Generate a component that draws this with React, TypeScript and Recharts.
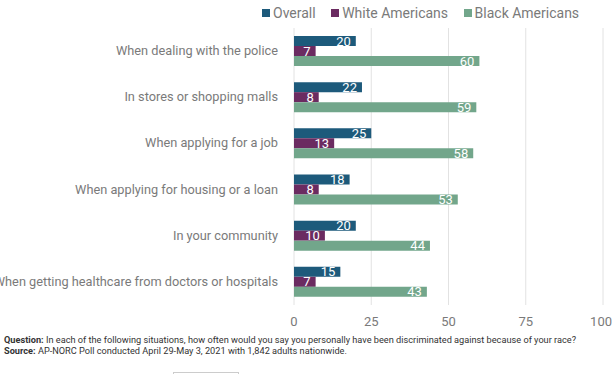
import { BarChart, Bar, XAxis, YAxis, CartesianGrid, LabelList } from "recharts";

const categories = [
  "When dealing with the police",
  "In stores or shopping malls",
  "When applying for a job",
  "When applying for housing or a loan",
  "In your community",
  "When getting healthcare from doctors or hospitals",
];
const overall = [20, 22, 25, 18, 20, 15];
const whiteAmericans = [7, 8, 13, 8, 10, 7];
const blackAmericans = [60, 59, 58, 53, 44, 43];
const xTicks = [0, 25, 50, 75, 100];

const series = [
  { key: "overall", name: "Overall", color: "#1d5a7b" },
  { key: "white", name: "White Americans", color: "#6b2b61" },
  { key: "black", name: "Black Americans", color: "#72a68b" },
];

const data = categories.map((name, i) => ({
  name,
  overall: overall[i],
  white: whiteAmericans[i],
  black: blackAmericans[i],
}));

const FONT = "Roboto, 'Noto Sans', sans-serif";

// single-line category label, right aligned
const CategoryTick = ({ x, y, payload }: any) => (
  <text x={x} y={y} dy={4} textAnchor="end" fill="#7a7a7a" fontSize={12.75} fontFamily={FONT}>
    {payload.value}
  </text>
);

export default function App() {
  return (
    <div style={{ position: "absolute", left: 0, top: 0, width: 612, height: 374, background: "#fff", overflow: "hidden" }}>
      <div
        style={{
          position: "absolute",
          left: 262,
          top: 5,
          display: "flex",
          fontFamily: FONT,
          fontSize: 14,
          color: "#7a7a7a",
        }}
      >
        {series.map((s) => (
          <div key={s.key} style={{ display: "flex", alignItems: "center", marginRight: 15.5 }}>
            <span style={{ width: 8, height: 8, background: s.color, display: "inline-block", marginRight: 3 }} />
            <span>{s.name}</span>
          </div>
        ))}
      </div>
      <BarChart
        width={612}
        height={330}
        data={data}
        layout="vertical"
        barGap={0}
        margin={{ top: 28, right: 9, left: 0, bottom: 0 }}
      >
        <CartesianGrid horizontal={false} stroke="#e2e2e2" />
        <XAxis
          type="number"
          domain={[0, 100]}
          ticks={xTicks}
          axisLine={false}
          tickLine={false}
          tickMargin={6}
          height={25}
          tick={{ fill: "#7a7a7a", fontSize: 13, fontFamily: FONT }}
        />
        <YAxis
          type="category"
          dataKey="name"
          width={294}
          axisLine={false}
          tickLine={false}
          tickMargin={10}
          interval={0}
          tick={<CategoryTick />}
        />
        {series.map((s) => (
          <Bar key={s.key} dataKey={s.key} name={s.name} fill={s.color} barSize={10} isAnimationActive={false}>
            <LabelList
              dataKey={s.key}
              position="insideRight"
              fill="#ffffff"
              style={{ fontSize: 13, fontFamily: FONT }}
            />
          </Bar>
        ))}
      </BarChart>
      <div
        style={{
          position: "absolute",
          left: 4,
          top: 333.5,
          fontFamily: FONT,
          fontSize: 9.2,
          lineHeight: "11px",
          color: "#333",
          whiteSpace: "nowrap",
        }}
      >
        <div>
          <b>Question:</b> In each of the following situations, how often would you say you personally have been discriminated against because of your race?
        </div>
        <div>
          <b>Source:</b> AP-NORC Poll conducted April 29-May 3, 2021 with 1,842 adults nationwide.
        </div>
      </div>
      <div style={{ position: "absolute", left: 173, top: 372, width: 64, height: 10, border: "1px solid #ccc" }} />
    </div>
  );
}
